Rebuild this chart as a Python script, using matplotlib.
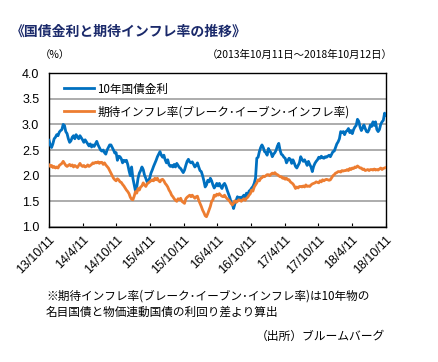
import pandas as pd
import matplotlib
matplotlib.use('Agg')
import matplotlib.pyplot as plt

plt.rcParams['font.family'] = ['Noto Sans CJK JP', 'DejaVu Sans']

# 週次データ (2013/10/11 ～ 2018/10/12)
start_date = '2013-10-11'

# 米10年国債金利 (%)
yield10 = [
    2.69, 2.60, 2.55, 2.62, 2.72, 2.75, 2.80, 2.78, 2.85, 2.88, 2.90, 3.00,
    2.98, 2.86, 2.82, 2.72, 2.65, 2.68, 2.75, 2.78, 2.72, 2.80, 2.76, 2.72,
    2.78, 2.74, 2.70, 2.65, 2.70, 2.66, 2.62, 2.58, 2.62, 2.56, 2.60, 2.57,
    2.62, 2.67, 2.60, 2.55, 2.50, 2.48, 2.50, 2.45, 2.42, 2.50, 2.55, 2.60,
    2.60, 2.55, 2.50, 2.44, 2.45, 2.30, 2.38, 2.37, 2.33, 2.25, 2.30, 2.28,
    2.30, 2.22, 2.10, 2.00, 2.17, 1.95, 1.82, 1.70, 1.78, 1.95, 2.05, 2.10,
    2.17, 2.12, 2.01, 1.95, 1.88, 1.90, 1.95, 2.05, 2.11, 2.18, 2.24, 2.30,
    2.37, 2.42, 2.47, 2.40, 2.36, 2.40, 2.31, 2.25, 2.31, 2.21, 2.18, 2.20,
    2.17, 2.22, 2.17, 2.24, 2.20, 2.16, 2.14, 2.10, 2.06, 2.11, 2.20, 2.28,
    2.32, 2.27, 2.25, 2.27, 2.22, 2.17, 2.20, 2.25, 2.17, 2.10, 2.08, 2.00,
    1.90, 1.78, 1.82, 1.91, 1.88, 1.95, 1.90, 1.82, 1.76, 1.80, 1.85, 1.80,
    1.85, 1.79, 1.75, 1.82, 1.85, 1.80, 1.72, 1.65, 1.58, 1.49, 1.45, 1.36,
    1.45, 1.52, 1.59, 1.55, 1.58, 1.54, 1.59, 1.62, 1.58, 1.66, 1.62, 1.70,
    1.72, 1.76, 1.79, 1.85, 1.95, 2.34, 2.36, 2.47, 2.55, 2.60, 2.55, 2.47,
    2.45, 2.40, 2.53, 2.48, 2.45, 2.37, 2.42, 2.45, 2.50, 2.58, 2.63, 2.50,
    2.42, 2.40, 2.36, 2.34, 2.25, 2.30, 2.34, 2.32, 2.24, 2.31, 2.25, 2.18,
    2.15, 2.20, 2.25, 2.37, 2.32, 2.28, 2.31, 2.26, 2.20, 2.28, 2.22, 2.17,
    2.08, 2.18, 2.24, 2.28, 2.31, 2.36, 2.34, 2.38, 2.35, 2.34, 2.37, 2.36,
    2.38, 2.40, 2.37, 2.42, 2.47, 2.48, 2.55, 2.62, 2.66, 2.72, 2.86, 2.84,
    2.86, 2.80, 2.86, 2.88, 2.92, 2.84, 2.88, 2.82, 2.90, 2.95, 2.98, 3.10,
    3.06, 2.95, 2.88, 2.93, 2.99, 2.92, 2.86, 2.85, 2.90, 2.99, 2.96, 3.05,
    2.98, 3.05, 2.90, 2.86, 2.90, 3.00, 3.05, 3.08, 3.22, 3.18,
]

# 期待インフレ率 (ブレーク・イーブン・インフレ率, %)
breakeven = [
    2.21, 2.18, 2.20, 2.16, 2.18, 2.15, 2.17, 2.15, 2.20, 2.22, 2.24, 2.28,
    2.24, 2.20, 2.18, 2.20, 2.22, 2.19, 2.21, 2.17, 2.20, 2.18, 2.16, 2.20,
    2.24, 2.20, 2.18, 2.20, 2.17, 2.18, 2.21, 2.18, 2.20, 2.22, 2.25, 2.24,
    2.26, 2.25, 2.27, 2.24, 2.26, 2.26, 2.22, 2.25, 2.21, 2.18, 2.15, 2.10,
    2.05, 2.00, 1.95, 1.92, 1.90, 1.94, 1.92, 1.88, 1.87, 1.83, 1.80, 1.76,
    1.72, 1.69, 1.65, 1.58, 1.54, 1.53, 1.60, 1.69, 1.66, 1.75, 1.72, 1.78,
    1.80, 1.86, 1.82, 1.79, 1.84, 1.86, 1.88, 1.90, 1.92, 1.90, 1.95, 1.92,
    1.95, 1.90, 1.88, 1.92, 1.93, 1.90, 1.85, 1.82, 1.78, 1.72, 1.68, 1.62,
    1.59, 1.55, 1.52, 1.50, 1.55, 1.53, 1.56, 1.50, 1.48, 1.46, 1.55, 1.58,
    1.60, 1.62, 1.59, 1.62, 1.59, 1.56, 1.59, 1.60, 1.52, 1.46, 1.40, 1.33,
    1.28, 1.22, 1.20, 1.26, 1.33, 1.40, 1.50, 1.53, 1.62, 1.60, 1.64, 1.62,
    1.65, 1.62, 1.60, 1.59, 1.62, 1.58, 1.55, 1.53, 1.50, 1.46, 1.43, 1.46,
    1.51, 1.48, 1.50, 1.53, 1.52, 1.50, 1.53, 1.55, 1.52, 1.56, 1.58, 1.62,
    1.65, 1.72, 1.70, 1.78, 1.82, 1.86, 1.92, 1.90, 1.95, 1.96, 1.99, 1.98,
    2.00, 2.02, 2.02, 2.00, 2.03, 2.05, 2.04, 2.06, 2.03, 2.02, 2.00, 1.98,
    1.98, 1.95, 1.96, 1.93, 1.95, 1.92, 1.92, 1.88, 1.86, 1.84, 1.80, 1.75,
    1.78, 1.76, 1.79, 1.79, 1.78, 1.80, 1.78, 1.82, 1.79, 1.80, 1.79, 1.82,
    1.84, 1.85, 1.86, 1.88, 1.87, 1.86, 1.90, 1.88, 1.92, 1.90, 1.92, 1.93,
    1.92, 1.91, 1.92, 1.96, 2.00, 2.02, 2.05, 2.06, 2.08, 2.08, 2.07, 2.10,
    2.09, 2.10, 2.10, 2.12, 2.10, 2.14, 2.12, 2.15, 2.14, 2.17, 2.16, 2.19,
    2.17, 2.15, 2.15, 2.12, 2.13, 2.10, 2.11, 2.12, 2.10, 2.12, 2.12, 2.11,
    2.13, 2.11, 2.12, 2.11, 2.13, 2.15, 2.12, 2.14, 2.15, 2.16,
]

tick_dates = ['2013-10-11', '2014-04-11', '2014-10-11', '2015-04-11', '2015-10-11',
              '2016-04-11', '2016-10-11', '2017-04-11', '2017-10-11', '2018-04-11',
              '2018-10-11']
tick_labels = ['13/10/11', '14/4/11', '14/10/11', '15/4/11', '15/10/11', '16/4/11',
               '16/10/11', '17/4/11', '17/10/11', '18/4/11', '18/10/11']
y_ticks = [1.0, 1.5, 2.0, 2.5, 3.0, 3.5, 4.0]

dates = pd.date_range(start_date, periods=len(yield10), freq='7D')

fig = plt.figure(figsize=(4.39, 3.62), dpi=100)
ax = fig.add_axes([0.1116, 0.373, 0.7674, 0.425])

ax.plot(dates, yield10, color='#0070C0', lw=2.0, label='10年国債金利', zorder=3)
ax.plot(dates, breakeven, color='#ED7D31', lw=2.0,
        label='期待インフレ率(ブレーク･イーブン･インフレ率)', zorder=3)

ax.set_ylim(1.0, 4.0)
ax.set_yticks(y_ticks)
ax.set_yticklabels(['%.1f' % v for v in y_ticks], family='Liberation Sans', fontsize=9)
ax.set_xlim(pd.Timestamp('2013-10-11'), pd.Timestamp('2018-10-12'))
ax.set_xticks(pd.to_datetime(tick_dates))
ax.set_xticklabels(tick_labels, rotation=45, ha='right', rotation_mode='anchor',
                   family='Liberation Sans', fontsize=9)
ax.tick_params(axis='x', direction='in', length=3, pad=5)
ax.tick_params(axis='y', length=0, pad=7)
ax.grid(axis='y', color='#a6a6a6', lw=1.3)
ax.set_axisbelow(True)
for s in ax.spines.values():
    s.set_color('black')
    s.set_linewidth(1.0)

ax.legend(loc='upper left', bbox_to_anchor=(0.025, 0.985), frameon=False,
          fontsize=8.4, handlelength=2.5, handletextpad=0.3, labelspacing=0.85,
          borderaxespad=0.2)

fig.text(0.025, 0.9, '《国債金利と期待インフレ率の推移》', fontsize=10,
         fontweight='bold', color='#1b2a6b')
fig.text(0.09, 0.84, '（%）', fontsize=7.5)
fig.text(0.895, 0.84, '（2013年10月11日～2018年10月12日）', fontsize=7.5, ha='right')
fig.text(0.105, 0.172, '※期待インフレ率(ブレーク･イーブン･インフレ率)は10年物の',
         fontsize=8.4)
fig.text(0.105, 0.128, '名目国債と物価連動国債の利回り差より算出', fontsize=8.4)
fig.text(0.878, 0.06, '（出所）ブルームバーグ', fontsize=8.5, ha='right')

fig.savefig('out.png', dpi=100)
